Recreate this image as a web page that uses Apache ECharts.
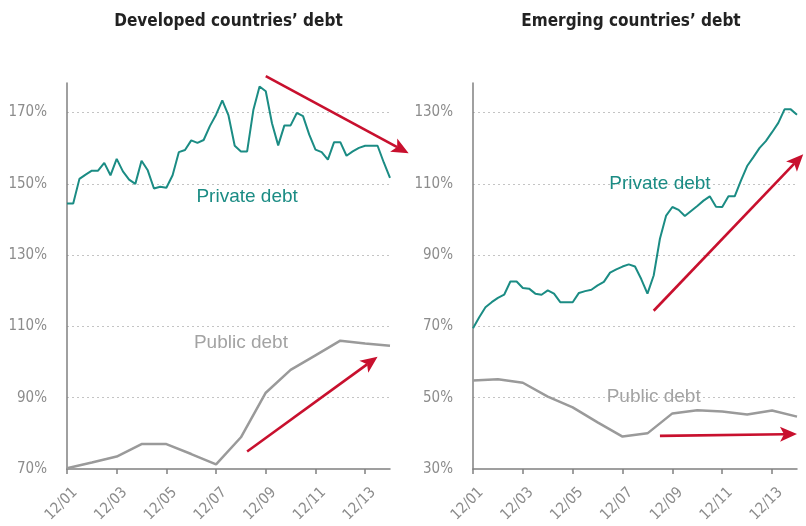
<!DOCTYPE html>
<html><head><meta charset="utf-8">
<script src="https://cdn.jsdelivr.net/npm/echarts@6/dist/echarts.min.js"></script>
<style>html,body{margin:0;padding:0;background:#fff}#c{width:806px;height:526px}</style>
</head><body><div id="c"></div>
<script>
const quarters = ["12/01",
 "03/02","06/02","09/02","12/02","03/03","06/03","09/03","12/03",
 "03/04","06/04","09/04","12/04","03/05","06/05","09/05","12/05",
 "03/06","06/06","09/06","12/06","03/07","06/07","09/07","12/07",
 "03/08","06/08","09/08","12/08","03/09","06/09","09/09","12/09",
 "03/10","06/10","09/10","12/10","03/11","06/11","09/11","12/11",
 "03/12","06/12","09/12","12/12","03/13","06/13","09/13","12/13",
 "03/14","06/14","09/14","12/14"];
const devPrivate = [144.5,144.5,151.4,152.6,153.7,153.7,155.9,152.4,157.0,153.5,151.2,150.0,
 156.5,153.8,148.7,149.2,148.9,152.4,158.9,159.5,162.2,161.5,162.3,166.2,169.4,173.4,169.2,
 160.7,159.1,159.1,170.7,177.3,176.0,167.0,160.8,166.4,166.4,169.9,169.0,163.8,159.6,158.9,
 156.8,161.7,161.7,157.9,159.1,160.1,160.7,160.7,160.7,156.0,151.7];
const devPublic = [70.2,71.8,73.5,77.0,77.0,74.2,71.3,78.9,91.4,97.8,101.9,106.0,105.2,104.6];
const emPrivate = [69.5,72.6,75.4,76.8,78.0,78.9,82.6,82.6,80.8,80.6,79.2,78.9,80.1,79.2,
 76.8,76.8,76.8,79.4,79.9,80.3,81.5,82.5,85.1,86.0,86.8,87.4,86.8,83.3,79.2,84.3,94.6,101.1,
 103.5,102.7,101.0,102.4,103.8,105.3,106.5,103.6,103.5,106.5,106.5,110.9,115.0,117.5,120.1,
 122.0,124.5,127.1,130.9,130.9,129.4];
const emPublic = [54.8,55.2,54.2,50.3,47.3,43.1,39.1,40.0,45.6,46.5,46.1,45.3,46.4,44.7];
const titles = ["Developed countries\u2019 debt", "Emerging countries\u2019 debt"];
const yMin = [70, 30], yMax = [178.3, 138.3], yStep = 20;

const TEAL = '#1b8c84', GRAYL = '#9a9a9a', RED = '#c8102e', AX = '#808080';
const NARROW = "'Liberation Sans Narrow','DejaVu Sans Condensed','Roboto Condensed',sans-serif";
const REG = "'Liberation Sans',Arial,sans-serif";

const chart = echarts.init(document.getElementById('c'), null, {renderer:'canvas'});
const grids = [
  {left: 67, right: 416, top: 83, bottom: 57},
  {left: 473, right: 9, top: 83, bottom: 57}
];
function xAx(i){return {type:'category', gridIndex:i, data:quarters, boundaryGap:false,
  axisLine:{lineStyle:{color:AX, width:1.5}},
  axisTick:{show:true, interval:7, length:5, lineStyle:{color:AX, width:1.5}},
  axisLabel:{interval:7, rotate:45, color:'#8c8c8c', fontSize:15, fontFamily:NARROW, margin:13,
    verticalAlign:'top', padding:[4,0,0,0], formatter: v => v}};
}
function yAx(i){return {type:'value', gridIndex:i, min:yMin[i], max:yMax[i], interval:yStep,
  axisLine:{show:true, lineStyle:{color:AX, width:1.5}}, axisTick:{show:false},
  axisLabel:{color:'#8c8c8c', fontSize:15, fontFamily:NARROW, margin:20, showMaxLabel:false,
    formatter:'{value}%'},
  splitLine:{show:true, showMaxLine:false, showMinLine:false, lineStyle:{color:'#c4c4c4', type:[2,3], width:1}}};
}
const annual = arr => arr.map((v,k)=>[k*4, v]);
chart.setOption({
  animation:false,
  grid: grids,
  xAxis:[xAx(0), xAx(1)],
  yAxis:[yAx(0), yAx(1)],
  series:[
    {type:'line', xAxisIndex:0, yAxisIndex:0, data:devPrivate, showSymbol:false, lineStyle:{color:TEAL, width:2}, z:3},
    {type:'line', xAxisIndex:0, yAxisIndex:0, data:annual(devPublic), showSymbol:false, lineStyle:{color:GRAYL, width:2.5}, z:3},
    {type:'line', xAxisIndex:1, yAxisIndex:1, data:emPrivate, showSymbol:false, lineStyle:{color:TEAL, width:2}, z:3},
    {type:'line', xAxisIndex:1, yAxisIndex:1, data:annual(emPublic), showSymbol:false, lineStyle:{color:GRAYL, width:2.5}, z:3}
  ]
});

// annotations in data coordinates
const arrows = [
  {g:0, from:[32.45,180.2], to:[54.8,158.6]},
  {g:0, from:[28.97,74.9], to:[49.8,101.5]},
  {g:1, from:[29.35,74.4], to:[52.7,118.3]},
  {g:1, from:[30.15,39.3], to:[52.15,39.8]}
];
const labels = [
  {g:0, at:[28.9,146.3], text:'Private debt', color:TEAL},
  {g:0, at:[28.3,105.4], text:'Public debt', color:'#a3a3a3'},
  {g:1, at:[29.7,110.0], text:'Private debt', color:TEAL},
  {g:1, at:[29.1,50.2], text:'Public debt', color:'#a3a3a3'}
];
const px = (g, p) => chart.convertToPixel({xAxisIndex:g, yAxisIndex:g}, p);
const gfx = [];
arrows.forEach(a => {
  const S = px(a.g, a.from), T = px(a.g, a.to);
  const dx = T[0]-S[0], dy = T[1]-S[1], len = Math.hypot(dx,dy);
  const u = [dx/len, dy/len], n = [-u[1], u[0]];
  const L = 17, W = 7.5, N = 4;
  const B = [T[0]-(L-N)*u[0], T[1]-(L-N)*u[1]];
  gfx.push({type:'line', shape:{x1:S[0], y1:S[1], x2:B[0], y2:B[1]}, style:{stroke:RED, lineWidth:2.6}, z:10});
  gfx.push({type:'polygon', shape:{points:[
    [T[0],T[1]],
    [T[0]-L*u[0]+W*n[0], T[1]-L*u[1]+W*n[1]],
    B,
    [T[0]-L*u[0]-W*n[0], T[1]-L*u[1]-W*n[1]]
  ]}, style:{fill:RED}, z:10});
});
labels.forEach(l => {
  const P = px(l.g, l.at);
  gfx.push({type:'text', x:P[0], y:P[1], style:{text:l.text, fill:l.color, fontSize:19, fontFamily:REG,
    align:'center', verticalAlign:'middle', textAlign:'center', textVerticalAlign:'middle'}, z:12});
});
const titleX = [228.5, 631];
titles.forEach((t,i) => {
  gfx.push({type:'text', x:titleX[i], y:22, style:{text:t, fill:'#222', fontSize:17, fontWeight:'bold', fontFamily:NARROW,
    align:'center', verticalAlign:'middle', textAlign:'center', textVerticalAlign:'middle'}, z:12});
});
chart.setOption({graphic: gfx});
</script></body></html>
